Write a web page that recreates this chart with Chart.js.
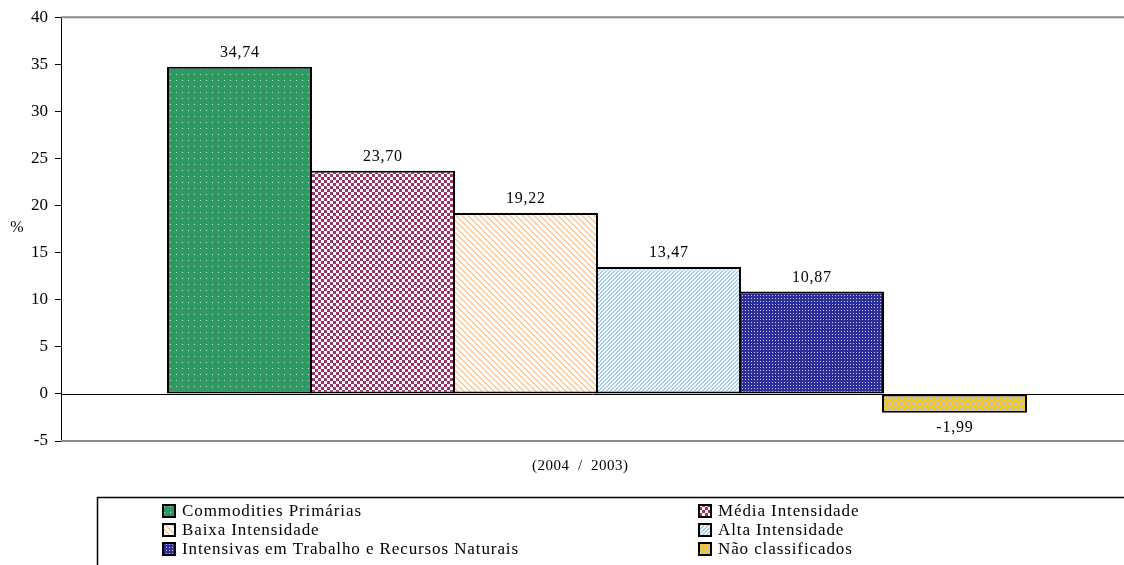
<!DOCTYPE html>
<html>
<head>
<meta charset="utf-8">
<script src="https://cdn.jsdelivr.net/npm/chart.js@4.4.1/dist/chart.umd.min.js"></script>
<style>
  html, body { margin: 0; padding: 0; background: #ffffff; }
  #wrap { width: 1124px; height: 565px; }
</style>
</head>
<body>
<div id="wrap"><canvas id="chart" width="1124" height="565"></canvas></div>
<script>
// Export growth by technology intensity, 2004 over 2003 (%)
const periodLabel = ['(2004 / 2003)'];
const seriesNames = [
  'Commodities Primárias',
  'Média Intensidade',
  'Baixa Intensidade',
  'Alta Intensidade',
  'Intensivas em Trabalho e Recursos Naturais',
  'Não classificados'
];
const growthValues = [34.74, 23.70, 19.22, 13.47, 10.87, -1.99];
const yTicks = [-5, 0, 5, 10, 15, 20, 25, 30, 35, 40];

const FONT = '"Liberation Serif", "Times New Roman", serif';

// Small bitmap tiles used as bar fills
function tile(w, h, paint) {
  const c = document.createElement('canvas');
  c.width = w; c.height = h;
  const g = c.getContext('2d');
  paint(g, w, h);
  return g.createPattern(c, 'repeat');
}
function px(g, x, y, col) { g.fillStyle = col; g.fillRect(x, y, 1, 1); }

const fills = [
  // green with pale dots
  tile(6, 6, (g, w, h) => { g.fillStyle = '#2E9A63'; g.fillRect(0, 0, w, h); px(g, 2, 2, '#BFE6CF'); }),
  // plum / white checkerboard
  tile(6, 6, (g, w, h) => {
    g.fillStyle = '#ffffff'; g.fillRect(0, 0, w, h);
    g.fillStyle = '#993366'; g.fillRect(0, 0, 3, 3); g.fillRect(3, 3, 3, 3);
  }),
  // peach diagonal hatch
  tile(6, 6, (g, w, h) => {
    g.fillStyle = '#ffffff'; g.fillRect(0, 0, w, h);
    for (let y = 0; y < h; y++) for (let x = 0; x < w; x++)
      if (((x - y) % 6 + 6) % 6 < 2) px(g, x, y, '#FFC896');
  }),
  // light blue fine hatch
  tile(4, 4, (g, w, h) => {
    g.fillStyle = '#ffffff'; g.fillRect(0, 0, w, h);
    for (let y = 0; y < h; y++) for (let x = 0; x < w; x++)
      if ((x + y) % 4 < 2) px(g, x, y, '#A6D0FA');
  }),
  // navy with white dots
  tile(3, 3, (g, w, h) => { g.fillStyle = '#2E2E9A'; g.fillRect(0, 0, w, h); px(g, 1, 1, '#C8C8F0'); }),
  // gold / grey checkerboard
  tile(6, 6, (g, w, h) => {
    g.fillStyle = '#FFCC00'; g.fillRect(0, 0, w, h);
    g.fillStyle = '#C8C0A0'; g.fillRect(0, 0, 3, 3); g.fillRect(3, 3, 3, 3);
  })
];

const datasets = seriesNames.map((name, i) => ({
  label: name,
  data: [growthValues[i]],
  backgroundColor: fills[i],
  borderColor: '#000000',
  borderWidth: 2,
  borderSkipped: false
}));

function fmt(v) { return v.toFixed(2).replace('.', ','); }

function spacedText(ctx, text, x, y, spacing) {
  ctx.letterSpacing = spacing + 'px';
  const shift = ctx.textAlign === 'center' ? spacing / 2 : 0;
  ctx.fillText(text, x + shift, y);
  ctx.letterSpacing = '0px';
}

// let the category axis run a little past the right edge so the bar group sits right of centre
const widenCategoryAxis = {
  id: 'widenCategoryAxis',
  afterLayout(chart) {
    const x = chart.scales.x;
    x.right += 9;
    x.width += 9;
    x.configure();
  }
};

const decorations = {
  id: 'decorations',
  beforeDatasetsDraw(chart) {
    const { ctx, chartArea: a, scales: { y } } = chart;
    ctx.save();
    // grey frame lines at the top and bottom of the value range
    ctx.strokeStyle = '#8a8a8a';
    ctx.lineWidth = 2;
    ctx.beginPath();
    ctx.moveTo(a.left, y.getPixelForValue(40)); ctx.lineTo(1124, y.getPixelForValue(40));
    ctx.moveTo(a.left, y.getPixelForValue(-5)); ctx.lineTo(1124, y.getPixelForValue(-5));
    ctx.stroke();
    // zero baseline
    ctx.strokeStyle = '#000000';
    ctx.lineWidth = 1;
    const y0 = Math.round(y.getPixelForValue(0)) + 0.5;
    ctx.beginPath();
    ctx.moveTo(a.left, y0); ctx.lineTo(1124, y0);
    ctx.stroke();
    ctx.restore();
  },
  afterDraw(chart) {
    const { ctx } = chart;
    ctx.save();
    // value labels
    ctx.fillStyle = '#000000';
    ctx.font = '16px ' + FONT;
    ctx.textAlign = 'center';
    chart.data.datasets.forEach((ds, i) => {
      const bar = chart.getDatasetMeta(i).data[0];
      const v = ds.data[0];
      if (v >= 0) {
        ctx.textBaseline = 'bottom';
        spacedText(ctx, fmt(v), bar.x, bar.y - 6, 0.8);
      } else {
        ctx.textBaseline = 'top';
        spacedText(ctx, fmt(v), bar.x, bar.y + 7, 0.8);
      }
    });
    // axis titles
    ctx.font = '16px ' + FONT;
    ctx.textBaseline = 'middle';
    ctx.fillText('%', 17, 228);
    ctx.font = '15px ' + FONT;
    spacedText(ctx, periodLabel[0].replace(' / ', '  /  '), 580, 466, 0.5);

    // legend frame
    ctx.strokeStyle = '#000000';
    ctx.lineWidth = 1.5;
    ctx.beginPath();
    ctx.moveTo(1124, 497.5); ctx.lineTo(97.5, 497.5); ctx.lineTo(97.5, 565);
    ctx.stroke();

    // legend entries, two columns
    const cols = [163, 699];
    const rows = [511, 530, 549];
    ctx.font = '17px ' + FONT;
    ctx.textAlign = 'left';
    ctx.textBaseline = 'middle';
    chart.data.datasets.forEach((ds, i) => {
      const x = cols[i % 2];
      const yc = rows[Math.floor(i / 2)];
      ctx.fillStyle = ds.backgroundColor;
      ctx.fillRect(x, yc - 6, 12, 12);
      ctx.strokeStyle = '#000000';
      ctx.lineWidth = 2;
      ctx.strokeRect(x, yc - 6, 12, 12);
      ctx.fillStyle = '#000000';
      spacedText(ctx, ds.label, x + 19, yc + 1, 0.9);
    });
    ctx.restore();
  }
};

new Chart(document.getElementById('chart'), {
  type: 'bar',
  data: { labels: periodLabel, datasets },
  options: {
    responsive: false,
    animation: false,
    layout: { padding: { top: 17, right: 0, left: 0, bottom: 0 } },
    plugins: { legend: { display: false }, tooltip: { enabled: false } },
    datasets: { bar: { categoryPercentage: 0.8004, barPercentage: 1.014 } },
    scales: {
      x: {
        ticks: { display: false },
        grid: { display: false },
        border: { display: false },
        afterFit(scale) { scale.height = 124; }
      },
      y: {
        min: -5,
        max: 40,
        afterBuildTicks(scale) { scale.ticks = yTicks.map(v => ({ value: v })); },
        ticks: {
          color: '#000000',
          padding: 7,
          font: { family: FONT, size: 17 },
          callback: v => String(v)
        },
        grid: { drawOnChartArea: false, tickLength: 6, color: '#000000' },
        border: { display: true, color: '#000000', width: 1 },
        afterFit(scale) { scale.width = 61; }
      }
    }
  },
  plugins: [widenCategoryAxis, decorations]
});
</script>
</body>
</html>
